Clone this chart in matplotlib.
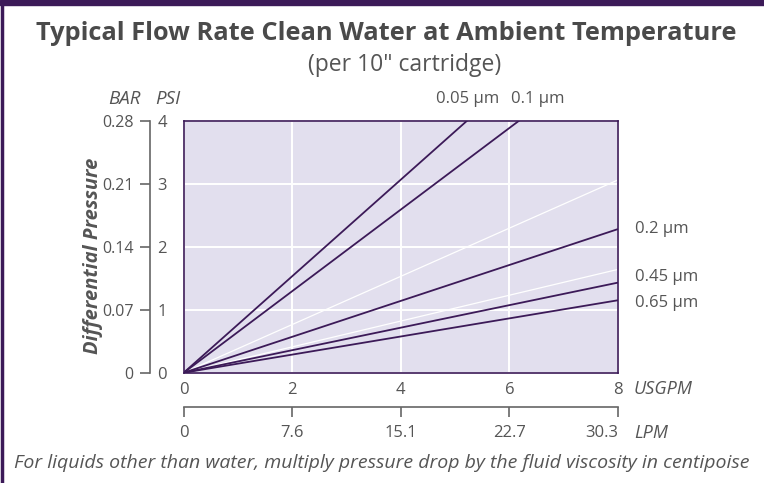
import matplotlib.pyplot as plt
from matplotlib.lines import Line2D
from matplotlib.patches import Rectangle

plt.rcParams['font.family'] = ['Open Sans', 'DejaVu Sans']

# flow in US gallons per minute, pressure drop in PSI (straight lines from 0)
flow = [0, 8]
psi_005 = [0, 6.13]
psi_01 = [0, 5.18]
psi_02 = [0, 2.28]
psi_045 = [0, 1.43]
psi_065 = [0, 1.15]
# faint white guide lines
guide_a = [0, 3.06]
guide_b = [0, 1.64]

gpm_ticks = [0, 2, 4, 6, 8]
lpm_labels = ['0', '7.6', '15.1', '22.7', '30.3']
psi_ticks = [0, 1, 2, 3, 4]
bar_ticks = [0, 0.07, 0.14, 0.21, 0.28]
bar_labels = ['0', '0.07', '0.14', '0.21', '0.28']

purple = '#3c1a58'
txt = '#555555'
W, H = 764, 483

fig = plt.figure(figsize=(7.64, 4.83), dpi=100)
fig.patch.set_facecolor('white')

# frame: thick top band + thin left line
fig.patches.append(Rectangle((0, 1 - 5 / H), 1, 5 / H, transform=fig.transFigure,
                             color=purple, zorder=0))
fig.lines.append(Line2D([2 / W, 2 / W], [0, 1], transform=fig.transFigure,
                        color=purple, lw=2.5))

ax = fig.add_axes([183.7 / W, 1 - 372.7 / H, (618 - 183.7) / W, (372.7 - 120.7) / H])
ax.set_facecolor('#e2dfee')
ax.set_xlim(0, 8)
ax.set_ylim(0, 4)
ax.set_xticks(gpm_ticks)
ax.set_xticklabels([str(v) for v in gpm_ticks])
ax.set_yticks(psi_ticks)
ax.set_yticklabels([str(v) for v in psi_ticks])
ax.tick_params(axis='both', length=0, labelsize=12, labelcolor=txt)
ax.tick_params(axis='x', pad=7)
ax.tick_params(axis='y', pad=12)
ax.grid(True, color='white', lw=1.4)
ax.set_axisbelow(True)
for s in ax.spines.values():
    s.set_color(purple)
    s.set_linewidth(1.2)

ax.plot(flow, guide_a, color='white', lw=0.9)
ax.plot(flow, guide_b, color='white', lw=0.9)
for y in [psi_005, psi_01, psi_02, psi_045, psi_065]:
    ax.plot(flow, y, color=purple, lw=1.3, solid_capstyle='butt')

# BAR bracket axis
axb = fig.add_axes([150 / W, 1 - 372.7 / H, 1e-6, (372.7 - 120.7) / H])
axb.set_ylim(0, 0.28)
axb.set_yticks(bar_ticks)
axb.set_yticklabels(bar_labels)
axb.set_xticks([])
for k in ['top', 'bottom', 'right']:
    axb.spines[k].set_visible(False)
axb.spines['left'].set_color('#666666')
axb.spines['left'].set_linewidth(1.2)
axb.tick_params(axis='y', direction='out', length=7, width=1.2, color='#666666',
                labelsize=11.5, labelcolor=txt, pad=5)

# LPM axis
axl = fig.add_axes([183.7 / W, 1 - 407 / H, (618 - 183.7) / W, 1e-6])
axl.set_xlim(0, 8)
axl.set_xticks(gpm_ticks)
axl.set_xticklabels(lpm_labels)
axl.set_yticks([])
for k in ['top', 'left', 'right']:
    axl.spines[k].set_visible(False)
axl.spines['bottom'].set_color('#666666')
axl.spines['bottom'].set_linewidth(1.2)
axl.tick_params(axis='x', direction='out', length=7, width=1.2, color='#666666',
                labelsize=12, labelcolor=txt, pad=6)
labs = axl.get_xticklabels()
labs[-1].set_horizontalalignment('right')
labs[-1].set_x(8.12)

def ftext(x, y, s, **kw):
    kw.setdefault('color', txt)
    fig.text(x / W, 1 - y / H, s, **kw)

ftext(386, 33, 'Typical Flow Rate Clean Water at Ambient Temperature',
      ha='center', va='center', fontsize=18.3, fontweight='bold', color='#4a4a4a')
ftext(405, 65, '(per 10" cartridge)', ha='center', va='center', fontsize=16.5)
ftext(124, 99, 'BAR', ha='center', va='center', fontsize=13.5, style='italic')
ftext(168, 99, 'PSI', ha='center', va='center', fontsize=13.5, style='italic')
ftext(468, 99, '0.05 µm', ha='center', va='center', fontsize=12)
ftext(538, 99, '0.1 µm', ha='center', va='center', fontsize=12)
ftext(635, 229, '0.2 µm', ha='left', va='center', fontsize=12)
ftext(635, 277, '0.45 µm', ha='left', va='center', fontsize=12)
ftext(635, 303, '0.65 µm', ha='left', va='center', fontsize=12)
ftext(634, 389, 'USGPM', ha='left', va='center', fontsize=13, style='italic')
ftext(634, 433, 'LPM', ha='left', va='center', fontsize=13, style='italic')
ftext(93, 256, 'Differential Pressure', ha='center', va='center', fontsize=14.5,
      fontweight='bold', style='italic', rotation=90)
ftext(382, 463, 'For liquids other than water, multiply pressure drop by the fluid viscosity in centipoise',
      ha='center', va='center', fontsize=14, style='italic')

fig.savefig('out.png', dpi=100)
